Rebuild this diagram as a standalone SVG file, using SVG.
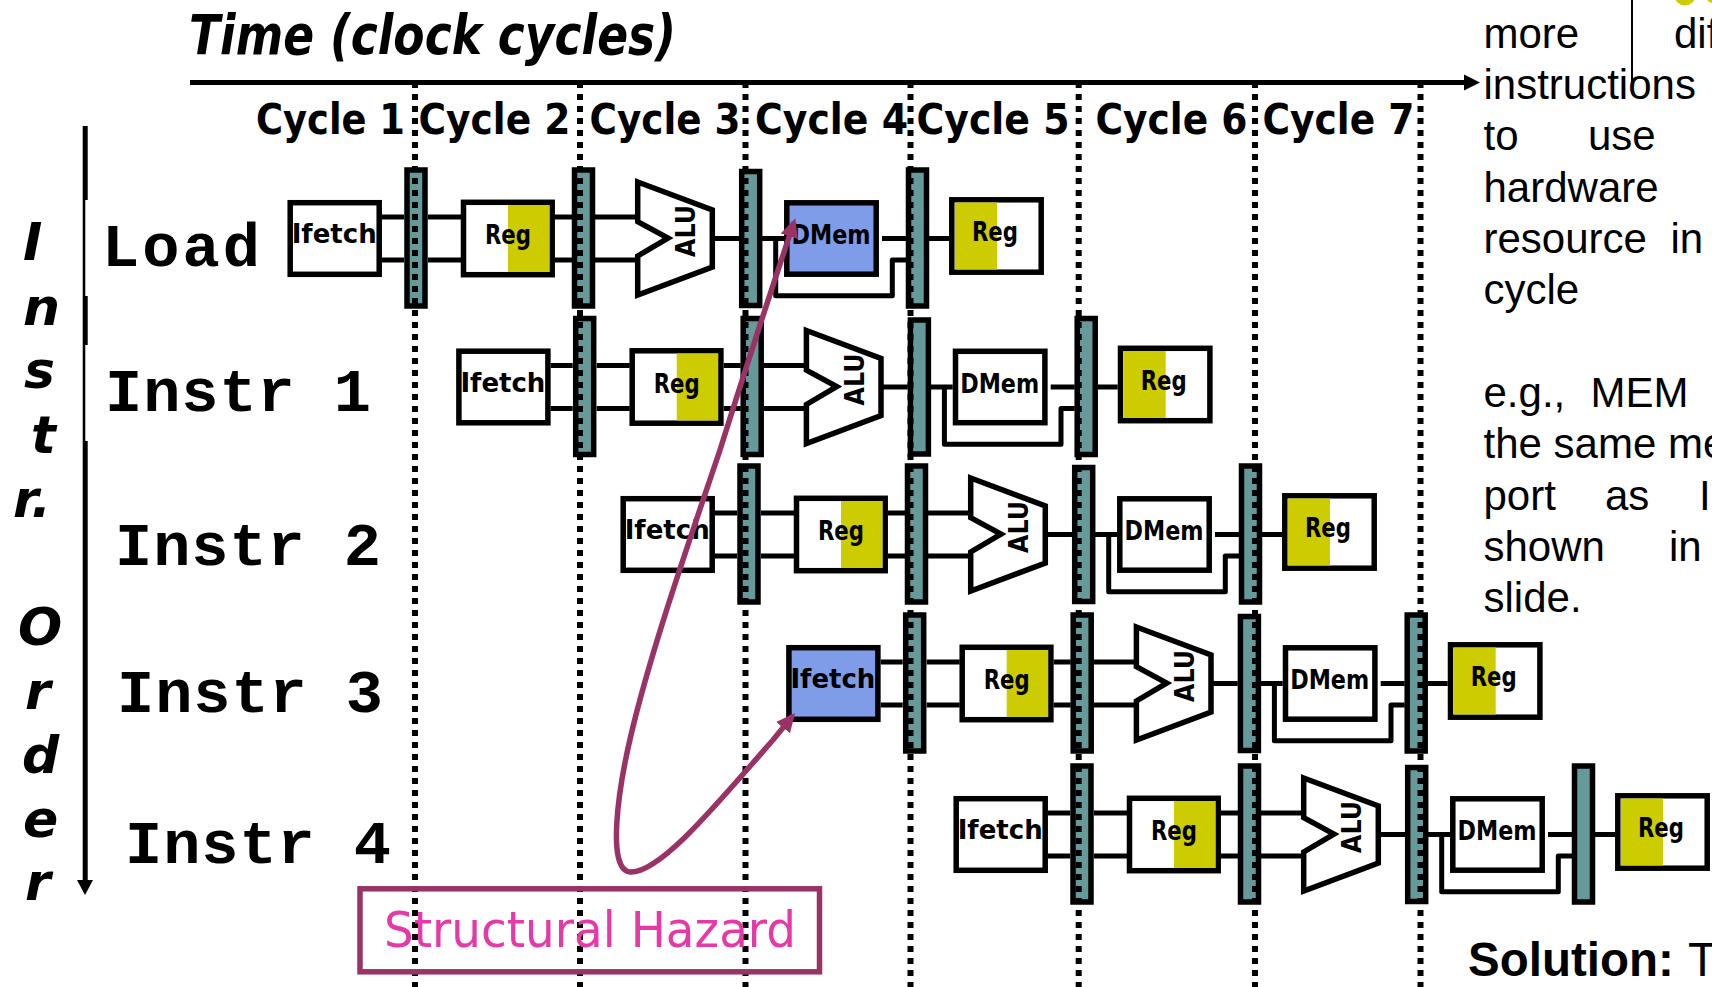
<svg xmlns="http://www.w3.org/2000/svg" width="1712" height="987" viewBox="0 0 1712 987">
<style>
.box{fill:#fff;stroke:#000;stroke-width:5.5}
.hl{fill:#7f9ce8;stroke:#000;stroke-width:5.5}
.yel{fill:#cccc00}
.lat{fill:#669999;stroke:#000;stroke-width:5.5}
.alu{fill:#fff;stroke:#000;stroke-width:5.5;stroke-linejoin:miter}
.wire{fill:none;stroke:#000;stroke-width:5;stroke-linejoin:round}
.dot{fill:none;stroke:#000;stroke-width:6;stroke-dasharray:6 6}
.bt{font-family:"DejaVu Sans",sans-serif;font-weight:700;font-size:26px;fill:#000}
.cyc{font-family:"DejaVu Sans",sans-serif;font-weight:700;font-size:43px;fill:#000}
.side{font-family:"DejaVu Sans",sans-serif;font-weight:700;font-style:oblique;font-size:52px;fill:#000}
.ins{font-family:"Liberation Mono",monospace;font-weight:700;font-size:62px;fill:#000}
.body{font-family:"Liberation Sans",Arial,sans-serif;font-size:42px;fill:#000}
.haz{fill:none;stroke:#993366;stroke-width:5.5}
</style>
<defs>
<marker id="head" markerUnits="userSpaceOnUse" markerWidth="22" markerHeight="20" refX="15" refY="10" orient="auto-start-reverse"><path d="M0 1L19 10L0 19Z" fill="#993366"/></marker>
<path id="wires" d="M382 217H404M382 260H404M428 217H461M428 260H461M555 217H572M555 260H572M595 217H638M595 260H638M712 238.5H739M762 238.5H784M882 238.5H906M929 238.5H949M775.7 238.5V295.7H892.3V260H906"/>
</defs>

<g id="connectors">
<use href="#wires" class="wire"/>
<use href="#wires" class="wire" transform="translate(168.7 148.5)"/>
<use href="#wires" class="wire" transform="translate(333 296)"/>
<use href="#wires" class="wire" transform="translate(498.7 445)"/>
<use href="#wires" class="wire" transform="translate(666 596)"/>
</g>

<g id="load">
<g id="load-ifetch"><rect class="box" x="290.2" y="202.7" width="89" height="71.6"/><text class="bt" x="291.7" y="243" textLength="85" lengthAdjust="spacingAndGlyphs">Ifetch</text></g>
<g id="load-latch1"><rect class="lat" x="407" y="170" width="18" height="136"/></g>
<g id="load-reg"><rect class="box" x="463.5" y="202.3" width="88.7" height="72.4"/><rect class="yel" x="508" y="205" width="41.4" height="67"/><text class="bt" x="485" y="244" textLength="46" lengthAdjust="spacingAndGlyphs">Reg</text></g>
<g id="load-latch2"><rect class="lat" x="574.5" y="170" width="18" height="136"/></g>
<g id="load-alu"><path class="alu" d="M637.7 182L712.3 210V267L637.7 295V256L668 238L637.7 221.7Z"/><text class="bt" transform="translate(695 257) rotate(-90)" textLength="52" lengthAdjust="spacingAndGlyphs">ALU</text></g>
<g id="load-latch3"><rect class="lat" x="741.7" y="171.5" width="18" height="134"/></g>
<g id="load-dmem"><rect class="hl" x="786.8" y="202.8" width="89.4" height="71.4"/><text class="bt" x="791.5" y="244" textLength="79" lengthAdjust="spacingAndGlyphs">DMem</text></g>
<g id="load-latch4"><rect class="lat" x="908.5" y="170" width="18" height="136"/></g>
<g id="load-wb"><rect class="box" x="951.8" y="199.8" width="89.4" height="72.4"/><rect class="yel" x="955" y="202.5" width="42" height="67"/><text class="bt" x="972" y="241" textLength="46" lengthAdjust="spacingAndGlyphs">Reg</text></g>
</g>

<g id="instr1" transform="translate(168.7 148.5)">
<g id="i1-ifetch"><rect class="box" x="290.2" y="202.7" width="89" height="71.6"/><text class="bt" x="291.7" y="243" textLength="85" lengthAdjust="spacingAndGlyphs">Ifetch</text></g>
<g id="i1-latch1"><rect class="lat" x="407" y="170" width="18" height="136"/></g>
<g id="i1-reg"><rect class="box" x="463.5" y="202.3" width="88.7" height="72.4"/><rect class="yel" x="508" y="205" width="41.4" height="67"/><text class="bt" x="485" y="244" textLength="46" lengthAdjust="spacingAndGlyphs">Reg</text></g>
<g id="i1-latch2"><rect class="lat" x="574.5" y="170" width="18" height="136"/></g>
<g id="i1-alu"><path class="alu" d="M637.7 182L712.3 210V267L637.7 295V256L668 238L637.7 221.7Z"/><text class="bt" transform="translate(695 257) rotate(-90)" textLength="52" lengthAdjust="spacingAndGlyphs">ALU</text></g>
<g id="i1-latch3"><rect class="lat" x="741.7" y="171.5" width="18" height="134"/></g>
<g id="i1-dmem"><rect class="box" x="786.8" y="202.8" width="89.4" height="71.4"/><text class="bt" x="791.5" y="244" textLength="79" lengthAdjust="spacingAndGlyphs">DMem</text></g>
<g id="i1-latch4"><rect class="lat" x="908.5" y="170" width="18" height="136"/></g>
<g id="i1-wb"><rect class="box" x="951.8" y="199.8" width="89.4" height="72.4"/><rect class="yel" x="955" y="202.5" width="42" height="67"/><text class="bt" x="972" y="241" textLength="46" lengthAdjust="spacingAndGlyphs">Reg</text></g>
</g>

<g id="instr2" transform="translate(333 296)">
<g id="i2-ifetch"><rect class="box" x="290.2" y="202.7" width="89" height="71.6"/><text class="bt" x="291.7" y="243" textLength="85" lengthAdjust="spacingAndGlyphs">Ifetch</text></g>
<g id="i2-latch1"><rect class="lat" x="407" y="170" width="18" height="136"/></g>
<g id="i2-reg"><rect class="box" x="463.5" y="202.3" width="88.7" height="72.4"/><rect class="yel" x="508" y="205" width="41.4" height="67"/><text class="bt" x="485" y="244" textLength="46" lengthAdjust="spacingAndGlyphs">Reg</text></g>
<g id="i2-latch2"><rect class="lat" x="574.5" y="170" width="18" height="136"/></g>
<g id="i2-alu"><path class="alu" d="M637.7 182L712.3 210V267L637.7 295V256L668 238L637.7 221.7Z"/><text class="bt" transform="translate(695 257) rotate(-90)" textLength="52" lengthAdjust="spacingAndGlyphs">ALU</text></g>
<g id="i2-latch3"><rect class="lat" x="741.7" y="171.5" width="18" height="134"/></g>
<g id="i2-dmem"><rect class="box" x="786.8" y="202.8" width="89.4" height="71.4"/><text class="bt" x="791.5" y="244" textLength="79" lengthAdjust="spacingAndGlyphs">DMem</text></g>
<g id="i2-latch4"><rect class="lat" x="908.5" y="170" width="18" height="136"/></g>
<g id="i2-wb"><rect class="box" x="951.8" y="199.8" width="89.4" height="72.4"/><rect class="yel" x="955" y="202.5" width="42" height="67"/><text class="bt" x="972" y="241" textLength="46" lengthAdjust="spacingAndGlyphs">Reg</text></g>
</g>

<g id="instr3" transform="translate(498.7 445)">
<g id="i3-ifetch"><rect class="hl" x="290.2" y="202.7" width="89" height="71.6"/><text class="bt" x="291.7" y="243" textLength="85" lengthAdjust="spacingAndGlyphs">Ifetch</text></g>
<g id="i3-latch1"><rect class="lat" x="407" y="170" width="18" height="136"/></g>
<g id="i3-reg"><rect class="box" x="463.5" y="202.3" width="88.7" height="72.4"/><rect class="yel" x="508" y="205" width="41.4" height="67"/><text class="bt" x="485" y="244" textLength="46" lengthAdjust="spacingAndGlyphs">Reg</text></g>
<g id="i3-latch2"><rect class="lat" x="574.5" y="170" width="18" height="136"/></g>
<g id="i3-alu"><path class="alu" d="M637.7 182L712.3 210V267L637.7 295V256L668 238L637.7 221.7Z"/><text class="bt" transform="translate(695 257) rotate(-90)" textLength="52" lengthAdjust="spacingAndGlyphs">ALU</text></g>
<g id="i3-latch3"><rect class="lat" x="741.7" y="171.5" width="18" height="134"/></g>
<g id="i3-dmem"><rect class="box" x="786.8" y="202.8" width="89.4" height="71.4"/><text class="bt" x="791.5" y="244" textLength="79" lengthAdjust="spacingAndGlyphs">DMem</text></g>
<g id="i3-latch4"><rect class="lat" x="908.5" y="170" width="18" height="136"/></g>
<g id="i3-wb"><rect class="box" x="951.8" y="199.8" width="89.4" height="72.4"/><rect class="yel" x="955" y="202.5" width="42" height="67"/><text class="bt" x="972" y="241" textLength="46" lengthAdjust="spacingAndGlyphs">Reg</text></g>
</g>

<g id="instr4" transform="translate(666 596)">
<g id="i4-ifetch"><rect class="box" x="290.2" y="202.7" width="89" height="71.6"/><text class="bt" x="291.7" y="243" textLength="85" lengthAdjust="spacingAndGlyphs">Ifetch</text></g>
<g id="i4-latch1"><rect class="lat" x="407" y="170" width="18" height="136"/></g>
<g id="i4-reg"><rect class="box" x="463.5" y="202.3" width="88.7" height="72.4"/><rect class="yel" x="508" y="205" width="41.4" height="67"/><text class="bt" x="485" y="244" textLength="46" lengthAdjust="spacingAndGlyphs">Reg</text></g>
<g id="i4-latch2"><rect class="lat" x="574.5" y="170" width="18" height="136"/></g>
<g id="i4-alu"><path class="alu" d="M637.7 182L712.3 210V267L637.7 295V256L668 238L637.7 221.7Z"/><text class="bt" transform="translate(695 257) rotate(-90)" textLength="52" lengthAdjust="spacingAndGlyphs">ALU</text></g>
<g id="i4-latch3"><rect class="lat" x="741.7" y="171.5" width="18" height="134"/></g>
<g id="i4-dmem"><rect class="box" x="786.8" y="202.8" width="89.4" height="71.4"/><text class="bt" x="791.5" y="244" textLength="79" lengthAdjust="spacingAndGlyphs">DMem</text></g>
<g id="i4-latch4"><rect class="lat" x="908.5" y="170" width="18" height="136"/></g>
<g id="i4-wb"><rect class="box" x="951.8" y="199.8" width="89.4" height="72.4"/><rect class="yel" x="955" y="202.5" width="42" height="67"/><text class="bt" x="972" y="241" textLength="46" lengthAdjust="spacingAndGlyphs">Reg</text></g>
</g>

<g id="cycle-dividers">
<line class="dot" x1="415" y1="82" x2="415" y2="987"/>
<line class="dot" x1="580" y1="82" x2="580" y2="987"/>
<line class="dot" x1="745.5" y1="82" x2="745.5" y2="987"/>
<line class="dot" x1="910.5" y1="82" x2="910.5" y2="987"/>
<line class="dot" x1="1078.7" y1="82" x2="1078.7" y2="987"/>
<line class="dot" x1="1255" y1="82" x2="1255" y2="987"/>
<line class="dot" x1="1420.5" y1="82" x2="1420.5" y2="987"/>
</g>

<g id="time-axis">
<text x="189" y="54" font-family="DejaVu Sans, sans-serif" font-weight="700" font-style="oblique" font-size="55" textLength="487" lengthAdjust="spacingAndGlyphs">Time (clock cycles)</text>
<path d="M190 82.5H1466" fill="none" stroke="#000" stroke-width="5"/>
<path d="M1464 74.5L1480 82.5L1464 90.5Z"/>
<text class="cyc" x="256" y="134" textLength="149" lengthAdjust="spacingAndGlyphs">Cycle 1</text>
<text class="cyc" x="418.5" y="134" textLength="152" lengthAdjust="spacingAndGlyphs">Cycle 2</text>
<text class="cyc" x="589.5" y="134" textLength="151" lengthAdjust="spacingAndGlyphs">Cycle 3</text>
<text class="cyc" x="755" y="134" textLength="153" lengthAdjust="spacingAndGlyphs">Cycle 4</text>
<text class="cyc" x="916.5" y="134" textLength="153" lengthAdjust="spacingAndGlyphs">Cycle 5</text>
<text class="cyc" x="1095.5" y="134" textLength="152" lengthAdjust="spacingAndGlyphs">Cycle 6</text>
<text class="cyc" x="1262.5" y="134" textLength="152" lengthAdjust="spacingAndGlyphs">Cycle 7</text>
</g>

<g id="instr-order-axis">
<path d="M82.7 126H87.7V200H85.3V296H87.7V345H85.3V441H87.7V880H82.7Z"/>
<path d="M77 880H93L85 895Z"/>
<text class="side" x="23" y="260">I</text>
<text class="side" x="23" y="325">n</text>
<text class="side" x="24" y="388">s</text>
<text class="side" x="31" y="453">t</text>
<text class="side" x="13" y="517">r.</text>
<text class="side" x="18" y="645">O</text>
<text class="side" x="25" y="709">r</text>
<text class="side" x="22" y="773">d</text>
<text class="side" x="23" y="837">e</text>
<text class="side" x="25" y="900">r</text>
</g>

<g id="row-labels">
<text class="ins" x="102" y="266" textLength="158">Load</text>
<text class="ins" x="105" y="411" textLength="266">Instr 1</text>
<text class="ins" x="115" y="565" textLength="266">Instr 2</text>
<text class="ins" x="117" y="712" textLength="266">Instr 3</text>
<text class="ins" x="125" y="863" textLength="266">Instr 4</text>
</g>

<g id="hazard">
<path class="haz" d="M794 222C772 288 745 370 720 450C688 545 651 650 631 735C618 790 606 872 631 872C662 872 720 800 773 740L792.5 716" marker-start="url(#head)" marker-end="url(#head)"/>
<rect x="360" y="888.8" width="459.5" height="83" fill="none" stroke="#993366" stroke-width="5.5"/>
<text x="384" y="947" font-family="DejaVu Sans, sans-serif" font-size="50" fill="#e639a8" textLength="412" lengthAdjust="spacingAndGlyphs">Structural Hazard</text>
</g>

<g id="side-text">
<circle cx="1685" cy="-5" r="10.5" fill="#cccc00"/>
<circle cx="1713" cy="-4" r="7" fill="#cccc00"/>
<line x1="1632" y1="0" x2="1632" y2="92" stroke="#000" stroke-width="2"/>
<text class="body" x="1483.5" y="47.5">more</text><text class="body" x="1674" y="47.5">dif</text>
<text class="body" x="1483.5" y="99">instructions</text>
<text class="body" x="1483.5" y="150">to</text><text class="body" x="1588" y="150">use</text>
<text class="body" x="1483.5" y="202">hardware</text>
<text class="body" x="1483.5" y="253">resource</text><text class="body" x="1670.5" y="253">in</text>
<text class="body" x="1483.5" y="304">cycle</text>
<text class="body" x="1483.5" y="407">e.g.,</text><text class="body" x="1590.5" y="407">MEM</text>
<text class="body" x="1483.5" y="458">the same me</text>
<text class="body" x="1483.5" y="510">port</text><text class="body" x="1605" y="510">as</text><text class="body" x="1699" y="510">I</text>
<text class="body" x="1483.5" y="561">shown</text><text class="body" x="1669" y="561">in</text>
<text class="body" x="1483.5" y="612">slide.</text>
<text x="1468" y="976" font-family="Liberation Sans, Arial, sans-serif" font-size="47.5" font-weight="700">Solution:</text>
<text x="1688" y="976" font-family="Liberation Sans, Arial, sans-serif" font-size="47.5">T</text>
</g>
</svg>
